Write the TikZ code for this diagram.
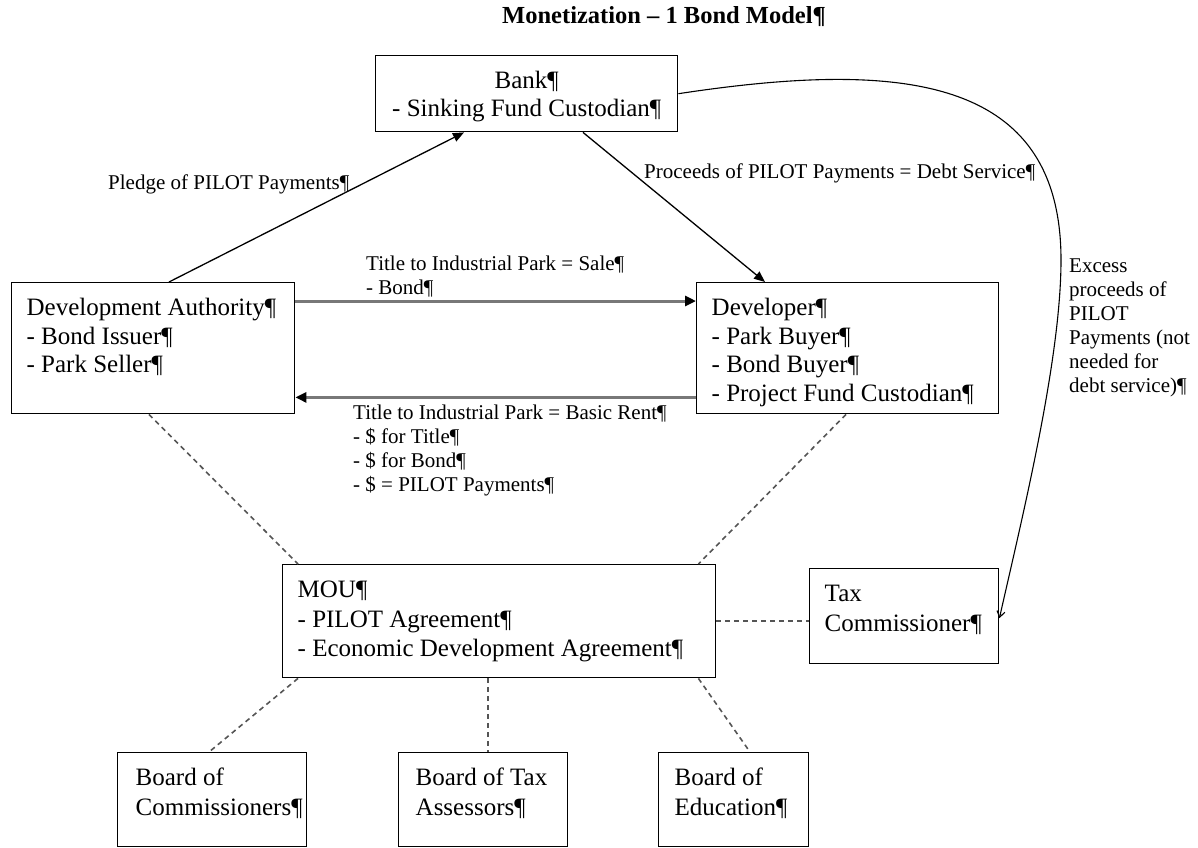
\documentclass[tikz,border=0pt]{standalone}
\usepackage{fontspec}
\setmainfont{Liberation Serif}
\usetikzlibrary{arrows.meta,calc}
\definecolor{arrgray}{RGB}{120,120,120}
\definecolor{dashgray}{RGB}{85,85,85}
\newcommand\firstline[1]{\rule{0pt}{#1}}
\begin{document}
\begin{tikzpicture}[x=1pt,y=-1pt,
  box/.style={draw, line width=1.4pt, inner sep=0pt, anchor=north west,
              font=\fontsize{25}{29}\selectfont},
  lbl/.style={inner sep=0pt, anchor=north west, align=left,
              font=\fontsize{21}{24}\selectfont},
  arr/.style={line width=1.3pt, -{Triangle[length=11pt,width=9pt]}},
  garr/.style={draw=arrgray, line width=3pt, -{Triangle[length=11pt,width=10pt,color=black]}},
  dsh/.style={draw=dashgray, line width=1.6pt, dash pattern=on 5pt off 4pt},
  carr/.style={line width=1.1pt, -{Straight Barb[length=6pt,width=8pt]}}]
\useasboundingbox (0,0) rectangle (1198,847);

% title
\node[anchor=base, inner sep=0pt, font=\bfseries\fontsize{24.5}{28}\selectfont] (title) at (664,23) {Monetization – 1 Bond Model¶};

% boxes
\node[box] (bank) at (375,55) {\parbox[c][76pt][t]{302pt}{\centering\baselineskip=28pt\firstline{33pt}Bank¶\\- Sinking Fund Custodian¶}};
\node[box] (da) at (11,282) {\parbox[c][131pt][t]{283pt}{\raggedright\leftskip=15pt\baselineskip=28.3pt\firstline{33pt}Development Authority¶\\- Bond Issuer¶\\- Park Seller¶}};
\node[box] (dev) at (696,282) {\parbox[c][131pt][t]{302pt}{\raggedright\leftskip=15pt\baselineskip=28.5pt\firstline{33pt}Developer¶\\- Park Buyer¶\\- Bond Buyer¶\\- Project Fund Custodian¶}};
\node[box] (mou) at (282,564) {\parbox[c][113pt][t]{433pt}{\raggedright\leftskip=15pt\baselineskip=29.5pt\firstline{33pt}MOU¶\\- PILOT Agreement¶\\- Economic Development Agreement¶}};
\node[box] (tax) at (809,568) {\parbox[c][95pt][t]{189pt}{\raggedright\leftskip=15pt\baselineskip=30pt\firstline{33pt}Tax\\Commissioner¶}};
\node[box] (comm) at (117,752) {\parbox[c][94pt][t]{189pt}{\raggedright\leftskip=18pt\baselineskip=30pt\firstline{33pt}Board of\\Commissioners¶}};
\node[box] (assess) at (398,752) {\parbox[c][94pt][t]{169pt}{\raggedright\leftskip=17pt\baselineskip=30pt\firstline{33pt}Board of Tax\\Assessors¶}};
\node[box] (edu) at (658,752) {\parbox[c][94pt][t]{150pt}{\raggedright\leftskip=16pt\baselineskip=30pt\firstline{33pt}Board of\\Education¶}};

% labels
\node[lbl] (lpledge) at (108,173) {\firstline{16pt}Pledge of PILOT Payments¶};
\node[lbl] (lproc) at (644,162) {\firstline{16pt}Proceeds of PILOT Payments = Debt Service¶};
\node[lbl] (lsale) at (366,254) {\firstline{16pt}Title to Industrial Park = Sale¶\\- Bond¶};
\node[lbl] (lrent) at (353,403) {\firstline{16pt}Title to Industrial Park = Basic Rent¶\\- \$ for Title¶\\- \$ for Bond¶\\- \$ = PILOT Payments¶};
\node[lbl] (lexcess) at (1069,256) {\firstline{16pt}Excess\\proceeds of\\PILOT\\Payments (not\\needed for\\debt service)¶};

% solid arrows
\draw[arr] ([xshift=158pt]da.north west) -- ([xshift=89pt]bank.south west);
\draw[arr] ([xshift=208pt]bank.south west) -- ([xshift=69pt]dev.north west);
\draw[garr] ([yshift=-19pt]da.north east) -- ([yshift=-19pt]dev.north west);
\draw[garr] ([yshift=17pt]dev.south west) -- ([yshift=17pt]da.south east);

% curved arrow
\draw[carr] (bank.east) .. controls (900,60) and (1061,75) .. (1061,260)
            .. controls (1061,360) and (1022,518) .. ([yshift=-2pt]tax.east);

% dashed connections
\draw[dsh] ([xshift=138pt]da.south west) -- ([xshift=16pt]mou.north west);
\draw[dsh] ([xshift=150pt]dev.south west) -- ([xshift=-18pt]mou.north east);
\draw[dsh] (mou.east) -- (mou.east -| tax.west);
\draw[dsh] ([xshift=16pt]mou.south west) -- ([xshift=92pt]comm.north west);
\coordinate (mb) at ([xshift=206pt]mou.south west);
\draw[dsh] (mb) -- (mb |- assess.north);
\draw[dsh] ([xshift=-18pt]mou.south east) -- ([xshift=92pt]edu.north west);
\end{tikzpicture}
\end{document}
